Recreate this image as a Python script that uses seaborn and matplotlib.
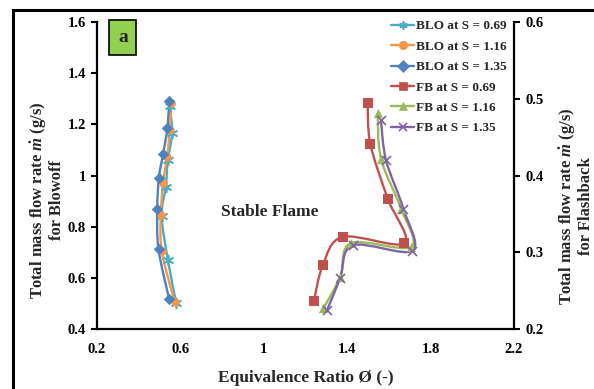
import numpy as np
import pandas as pd
import seaborn as sns
import matplotlib
matplotlib.use("Agg")
import matplotlib.pyplot as plt
from matplotlib.path import Path
from matplotlib.patches import PathPatch, Rectangle
from matplotlib.lines import Line2D

# ---- data -------------------------------------------------------------
# Blowoff limits (left axis): equivalence ratio vs total mass flow rate
blo_069_phi = [0.55, 0.56, 0.54, 0.53, 0.51, 0.54, 0.58]
blo_069_m = [1.27, 1.165, 1.06, 0.957, 0.842, 0.670, 0.501]
blo_116_phi = [0.557, 0.549, 0.536, 0.517, 0.506, 0.511, 0.573]
blo_116_m = [1.282, 1.178, 1.071, 0.972, 0.846, 0.703, 0.504]
blo_135_phi = [0.546, 0.538, 0.517, 0.497, 0.489, 0.495, 0.546]
blo_135_m = [1.293, 1.187, 1.084, 0.992, 0.868, 0.712, 0.517]

# Flashback limits (right axis)
fb_069_phi = [1.240, 1.283, 1.378, 1.674, 1.594, 1.511, 1.498]
fb_069_m = [0.236, 0.283, 0.320, 0.312, 0.370, 0.441, 0.494]
fb_116_phi = [1.286, 1.367, 1.418, 1.706, 1.658, 1.562, 1.546]
fb_116_m = [0.227, 0.268, 0.312, 0.307, 0.357, 0.422, 0.481]
fb_135_phi = [1.304, 1.366, 1.426, 1.713, 1.669, 1.586, 1.562]
fb_135_m = [0.225, 0.266, 0.309, 0.302, 0.357, 0.420, 0.472]

x_ticks = [0.2, 0.6, 1.0, 1.4, 1.8, 2.2]
x_tick_labels = ["0.2", "0.6", "1", "1.4", "1.8", "2.2"]
y1_ticks = [0.4, 0.6, 0.8, 1.0, 1.2, 1.4, 1.6]
y1_tick_labels = ["0.4", "0.6", "0.8", "1", "1.2", "1.4", "1.6"]
y2_ticks = [0.2, 0.3, 0.4, 0.5, 0.6]
y2_tick_labels = ["0.2", "0.3", "0.4", "0.5", "0.6"]

# ---- style ------------------------------------------------------------
sns.set_style("white")
plt.rcParams["font.family"] = ["Liberation Serif", "DejaVu Serif"]
plt.rcParams["font.weight"] = "bold"
plt.rcParams["mathtext.fontset"] = "custom"
plt.rcParams["mathtext.it"] = "Liberation Serif:italic:bold"
plt.rcParams["mathtext.rm"] = "Liberation Serif:bold"
plt.rcParams["mathtext.bf"] = "Liberation Serif:bold"

C_CYAN = "#4bacc6"
C_ORANGE = "#f79646"
C_BLUE = "#4f81bd"
C_RED = "#c0504d"
C_GREEN = "#9bbb59"
C_PURPLE = "#8064a2"
ASTERISK = (6, 2, 0)

series = [
    # label, phi, m, colour, marker, size, axis
    ("BLO at S = 0.69", blo_069_phi, blo_069_m, C_CYAN, ASTERISK, 50, 1),
    ("BLO at S = 1.16", blo_116_phi, blo_116_m, C_ORANGE, "o", 36, 1),
    ("BLO at S = 1.35", blo_135_phi, blo_135_m, C_BLUE, "D", 34, 1),
    ("FB at S = 0.69", fb_069_phi, fb_069_m, C_RED, "s", 46, 2),
    ("FB at S = 1.16", fb_116_phi, fb_116_m, C_GREEN, "^", 44, 2),
    ("FB at S = 1.35", fb_135_phi, fb_135_m, C_PURPLE, "x", 42, 2),
]


def smooth_path(xs, ys):
    """Cubic Bezier through the points (Catmull-Rom style smoothing)."""
    pts = np.column_stack([xs, ys]).astype(float)
    n = len(pts)
    verts = [pts[0]]
    codes = [Path.MOVETO]
    for i in range(n - 1):
        p0 = pts[i - 1] if i > 0 else pts[i]
        p1 = pts[i]
        p2 = pts[i + 1]
        p3 = pts[i + 2] if i + 2 < n else pts[i + 1]
        c1 = p1 + (p2 - p0) / 6.0
        c2 = p2 - (p3 - p1) / 6.0
        verts += [c1, c2, p2]
        codes += [Path.CURVE4] * 3
    return Path(verts, codes)


fig = plt.figure(figsize=(5.94, 3.89), dpi=100)
ax = fig.add_axes([97 / 594, 1 - 329 / 389, 417 / 594, 307 / 389])
ax2 = ax.twinx()

for label, phi, m, col, mk, size, which in series:
    target = ax if which == 1 else ax2
    target.add_patch(PathPatch(smooth_path(phi, m), facecolor="none",
                               edgecolor=col, lw=1.7, zorder=2))
    df = pd.DataFrame({"phi": phi, "m": m})
    sns.scatterplot(data=df, x="phi", y="m", ax=target, color=col,
                    marker=mk, s=size, linewidth=1.2 if mk in ("x", ASTERISK) else 0,
                    edgecolor=col, zorder=3, legend=False)

# axes limits / ticks
ax.set_xlim(0.2, 2.2)
ax.set_ylim(0.4, 1.6)
ax2.set_ylim(0.2, 0.6)
ax.set_xticks(x_ticks, x_tick_labels)
ax.set_yticks(y1_ticks, y1_tick_labels)
ax2.set_yticks(y2_ticks, y2_tick_labels)

for a in (ax, ax2):
    a.set_facecolor("none")
    for s in a.spines.values():
        s.set_visible(False)
    a.tick_params(direction="out", length=4, width=1.5, labelsize=10.5,
                  colors="black", pad=4)
ax.spines["left"].set_visible(True)
ax.spines["bottom"].set_visible(True)
ax2.spines["right"].set_visible(True)
for s in (ax.spines["left"], ax.spines["bottom"], ax2.spines["right"]):
    s.set_linewidth(1.6)
    s.set_color("black")
ax.tick_params(axis="x", pad=6)
for lab in ax.get_xticklabels() + ax.get_yticklabels() + ax2.get_yticklabels():
    lab.set_fontweight("bold")

ax.set_xlabel("Equivalence Ratio Ø (-)", fontsize=12.5, fontweight="bold")
ax.set_ylabel("Total mass flow rate $\\dot{m}$ (g/s)\nfor Blowoff",
              fontsize=12, fontweight="bold", linespacing=1.0)
ax2.set_ylabel("Total mass flow rate $\\dot{m}$ (g/s)\nfor Flashback",
               fontsize=12, fontweight="bold", rotation=90, linespacing=1.0)
ax.xaxis.set_label_coords(0.5, -0.135)
ax.yaxis.set_label_coords(-0.077, 0.42)
ax2.yaxis.set_label_coords(1.103, 0.40)

ax.text(0.415, 0.38, "Stable Flame", transform=ax.transAxes, fontsize=12.5,
        fontweight="bold", ha="center", va="center")
ax.text(0.062, 0.95, "a", transform=ax.transAxes, fontsize=14,
        fontweight="bold", ha="center", va="center",
        bbox=dict(boxstyle="square,pad=0.45", facecolor="#92d050",
                  edgecolor="black", lw=1.2))

handles = [Line2D([], [], color=col, marker=mk, markersize=6,
                  lw=1.7, markeredgewidth=1.2 if mk in ("x", ASTERISK) else 0.5)
           for _, _, _, col, mk, _, _ in series]
labels = [s[0] for s in series]
leg = ax.legend(handles, labels, loc="upper left",
                bbox_to_anchor=(0.705, 1.006), frameon=False, fontsize=9.5,
                handlelength=1.75, handletextpad=0.15, borderpad=0,
                labelspacing=0.62, borderaxespad=0)
leg.set_zorder(5)
for t in leg.get_texts():
    t.set_fontweight("bold")

fig.add_artist(Rectangle((13 / 594, -0.2), 1.2, 1 - 10 / 389 + 0.2,
                         transform=fig.transFigure, fill=False,
                         edgecolor="black", lw=2.2))

fig.savefig("out.png", dpi=100)
